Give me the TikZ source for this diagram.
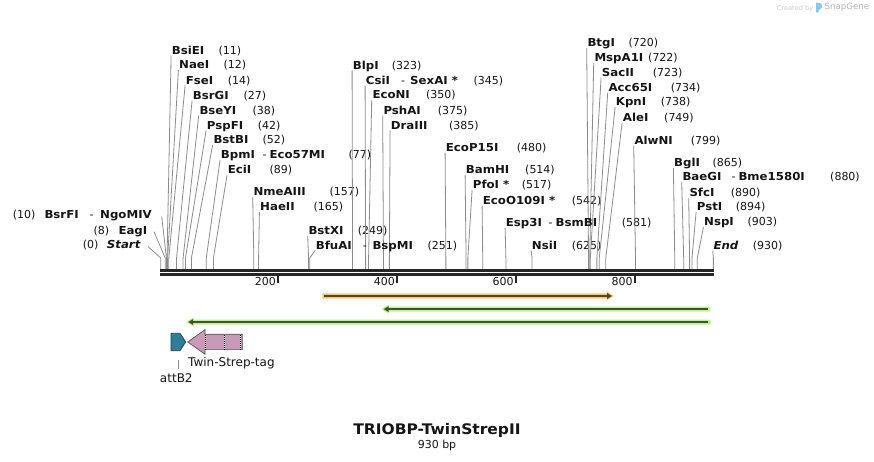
\documentclass[tikz,border=0pt]{standalone}
\usepackage{fontspec}
\setmainfont{DejaVu Sans}
\newfontfamily\enzfont[FakeStretch=1.07]{DejaVu Sans}
\newfontfamily\titlefont[FakeStretch=1.06]{DejaVu Sans}
\usetikzlibrary{arrows.meta}
\definecolor{txtblack}{HTML}{151515}
\definecolor{cutgray}{HTML}{8C8C8C}
\definecolor{seqline}{HTML}{262626}
\definecolor{orangeband}{HTML}{F9C774}
\definecolor{orangeline}{HTML}{4F4636}
\definecolor{greenband}{HTML}{BDF08E}
\definecolor{greenline}{HTML}{3F5430}
\definecolor{tealfill}{HTML}{2F7D98}
\definecolor{tealdraw}{HTML}{1D3C4C}
\definecolor{pinkfill}{HTML}{C99AB7}
\definecolor{pinkdraw}{HTML}{555555}
\definecolor{wmgray}{HTML}{B4B4B4}
\definecolor{wmlight}{HTML}{CCCCCC}
\definecolor{logoblue}{HTML}{8CC8EA}
% label at (lx,ly) of enzyme cutting at pos; number at numx
\newcommand\enzlab[5]{%
  \node[enzname] (n#5) at (#1,#2+4) {#3};
  \node[enznum] (m#5) at (#4,#2+4) {(#5)};
  \coordinate (a#5) at (#1-0.6,#2+5.5);
  \coordinate (b#5) at ({160.5+0.5945*#5},258);
  \coordinate (c#5) at ({160.5+0.5945*#5},269);
  \draw[cutline] (a#5) -- (b#5) -- (c#5);
}
\begin{document}
\begin{tikzpicture}[x=1pt,y=-1pt,
  enzname/.style={font=\enzfont\fontsize{11}{13}\selectfont\bfseries,inner sep=0pt,text=txtblack,anchor=base west},
  enznum/.style={font=\fontsize{11}{13}\selectfont,inner sep=0pt,text=txtblack,anchor=base west},
  cutline/.style={draw=cutgray,line width=0.8pt},
  ticklab/.style={font=\fontsize{11}{13}\selectfont,inner sep=0pt,text=txtblack,anchor=base east},
  featlab/.style={font=\fontsize{12}{14}\selectfont,inner sep=0pt,text=txtblack},
  bandtip/.style={-{Triangle[length=5pt,width=5.5pt]}},
]
\fill[white] (0,0) rectangle (874,461);
\useasboundingbox (0,0) rectangle (874,461);

% watermark
\node[font=\fontsize{6.6}{8}\selectfont,text=wmlight,inner sep=0pt,anchor=west] (wm1) at (776.7,8.5) {Created by};
\fill[logoblue,rounded corners=1.2pt] (816,2) -- (821.8,3.8) -- (821.8,8.6) -- (818.6,9.6) -- (818.6,12.8) -- (816,12.8) -- cycle;
\node[font=\fontsize{8.6}{10}\selectfont,text=wmgray,inner sep=0pt,anchor=west] (wm2) at (824.5,7.6) {SnapGene};

% enzymes on the right of their connectors
\enzlab{171.7}{50}{BsiEI}{218.3}{11}
\enzlab{179}{64.7}{NaeI}{223.3}{12}
\enzlab{185.7}{80}{FseI}{227.7}{14}
\enzlab{192.7}{95}{BsrGI}{243.3}{27}
\enzlab{199.3}{110}{BseYI}{252.3}{38}
\enzlab{206.7}{125}{PspFI}{257.7}{42}
\enzlab{213.3}{139.3}{BstBI}{262.3}{52}
\enzlab{220.7}{154.3}{BpmI}{348.3}{77}
\enzlab{227.7}{169.3}{EciI}{269.3}{89}
\enzlab{253.3}{191.7}{NmeAIII}{329.3}{157}
\enzlab{260}{206.7}{HaeII}{313.3}{165}
\enzlab{308.3}{230}{BstXI}{357.7}{249}
\enzlab{315.7}{245}{BfuAI}{427.3}{251}
\enzlab{352.7}{65}{BlpI}{391.7}{323}
\enzlab{365.7}{80}{CsiI}{473.3}{345}
\enzlab{372.3}{94.3}{EcoNI}{426}{350}
\enzlab{383.3}{110}{PshAI}{437.7}{375}
\enzlab{390.7}{125}{DraIII}{449}{385}
\enzlab{445.7}{147.3}{EcoP15I}{516.7}{480}
\enzlab{465.7}{169.3}{BamHI}{525}{514}
\enzlab{472.7}{184.3}{PfoI *}{521.7}{517}
\enzlab{482.7}{200}{EcoO109I *}{571.7}{542}
\enzlab{505.7}{222.3}{Esp3I}{621.7}{581}
\enzlab{531.7}{245}{NsiI}{571.7}{625}
\enzlab{587.3}{42.7}{BtgI}{628.3}{720}
\enzlab{594.3}{57.3}{MspA1I}{648}{722}
\enzlab{601.7}{72.3}{SacII}{652.7}{723}
\enzlab{608.3}{87.3}{Acc65I}{670.7}{734}
\enzlab{615.7}{101.7}{KpnI}{660.7}{738}
\enzlab{622.7}{117.3}{AleI}{664}{749}
\enzlab{634.3}{140}{AlwNI}{690.7}{799}
\enzlab{674}{162.3}{BglI}{712.3}{865}
\enzlab{682.3}{176.7}{BaeGI}{830}{880}
\enzlab{689.3}{192.7}{SfcI}{730.7}{890}
\enzlab{696.7}{206.7}{PstI}{735.7}{894}
\enzlab{704}{221.7}{NspI}{747.3}{903}
\enzlab{713.3}{245}{\itshape End}{752.7}{930}

% second names of isoschizomer pairs
\node[enznum] (d77) at (262.5,158.3) {-};
\node[enzname] (e77) at (269.3,158.3) {Eco57MI};
\node[enznum] (d251) at (362.7,249) {-};
\node[enzname] (e251) at (372.3,249) {BspMI};
\node[enznum] (d345) at (401,84) {-};
\node[enzname] (e345) at (410,84) {SexAI *};
\node[enznum] (d581) at (548.5,226.3) {-};
\node[enzname] (e581) at (555.5,226.3) {BsmBI};
\node[enznum] (d880) at (731.5,180.7) {-};
\node[enzname] (e880) at (738.3,180.7) {Bme1580I};

% enzymes on the left of their connectors
\node[enznum] (m0) at (82.7,248.3) {(0)};
\node[enzname,font=\enzfont\fontsize{11}{13}\selectfont\bfseries\itshape] (n0) at (106.7,248.3) {Start};
\coordinate (a0) at (148,246.5);
\coordinate (b0) at (160.8,258);
\coordinate (c0) at (160.8,269);
\draw[cutline] (a0) -- (b0) -- (c0);

\node[enznum] (m8) at (93.3,234) {(8)};
\node[enzname] (n8) at (118.3,234) {EagI};
\coordinate (a8) at (154,231.7);
\coordinate (b8) at ({160.5+0.5945*8},258);
\coordinate (c8) at ({160.5+0.5945*8},269);
\draw[cutline] (a8) -- (b8) -- (c8);

\node[enznum] (m10) at (12.7,218) {(10)};
\node[enzname] (n10) at (44.3,218) {BsrFI};
\node[enznum] (d10) at (89.3,218) {-};
\node[enzname] (e10) at (100,218) {NgoMIV};
\coordinate (a10) at (161.7,216.5);
\coordinate (b10) at ({160.5+0.5945*10},258);
\coordinate (c10) at ({160.5+0.5945*10},269);
\draw[cutline] (a10) -- (b10) -- (c10);

% sequence (double line)
\coordinate (s0) at (160,270.6);
\coordinate (s1) at (714,270.6);
\coordinate (t0) at (160,274.5);
\coordinate (t1) at (714,274.5);
\draw[seqline,line width=2.7pt] (s0) -- (s1);
\draw[seqline,line width=2.4pt] (t0) -- (t1);

% ruler ticks
\foreach \p in {200,400,600,800}{
  \coordinate (k\p) at ({160.5+0.5945*\p-1.5},276.4);
  \draw[seqline,line width=1.8pt] (k\p) -- ++(0,7);
  \node[ticklab] (r\p) at ({160.5+0.5945*\p-3.3},285.7) {\p};
}

% orange feature arrow (forward)
\fill[orangeband] (322.3,293.3) -- (606.5,293.3) -- (606.5,291.3) -- (613.8,296) -- (606.5,300.7) -- (606.5,298.7) -- (322.3,298.7) -- cycle;
\coordinate (oa) at (324,296);
\coordinate (ob) at (612,296);
\draw[orangeline,line width=1.9pt,bandtip] (oa) -- (ob);

% green feature arrow 1 (reverse)
\fill[greenband] (710.3,306.6) -- (389,306.6) -- (389,304.6) -- (381.5,309.1) -- (389,313.6) -- (389,311.6) -- (710.3,311.6) -- cycle;
\coordinate (ga) at (707.8,309.1);
\coordinate (gb) at (383.6,309.1);
\draw[greenline,line width=1.9pt,bandtip] (ga) -- (gb);

% green feature arrow 2 (reverse)
\fill[greenband] (710.5,319.5) -- (193.5,319.5) -- (193.5,317.5) -- (186,322) -- (193.5,326.5) -- (193.5,324.5) -- (710.5,324.5) -- cycle;
\coordinate (ha) at (708,322);
\coordinate (hb) at (188.1,322);
\draw[greenline,line width=1.9pt,bandtip] (ha) -- (hb);

% attB2 feature
\filldraw[fill=tealfill,draw=tealdraw,line width=0.7pt] (171,333.3) -- (180,333.3) -- (185.7,342) -- (180,350.7) -- (171,350.7) -- cycle;
\coordinate (attop) at (178.3,359.5);
\node[featlab,anchor=north] (atlab) at (176.3,373.5) {attB2};
\draw[cutgray,line width=0.8pt] (attop) -- (178.3,369);

% Twin-Strep-tag feature
\filldraw[fill=pinkfill,draw=pinkdraw,line width=0.7pt] (187.7,342) -- (205,329.6) -- (205,334.2) -- (242.3,334.2) -- (242.3,349.6) -- (205,349.6) -- (205,354.2) -- cycle;
\foreach \xx in {205.2,224.3,240}{
  \draw[white,line width=0.9pt] (\xx,334.6) -- (\xx,349.2);
  \draw[black,line width=0.9pt,dash pattern=on 1pt off 1pt] (\xx,334.6) -- (\xx,349.2);
}
\node[featlab,anchor=west] (twlab) at (188,363.3) {Twin-Strep-tag};

% title
\node[font=\titlefont\fontsize{14.6}{17}\selectfont\bfseries,text=txtblack,inner sep=0pt] (title) at (437,430) {TRIOBP-TwinStrepII};
\node[font=\fontsize{11}{13}\selectfont,text=txtblack,inner sep=0pt] (bp) at (437,445) {930 bp};
\end{tikzpicture}
\end{document}
